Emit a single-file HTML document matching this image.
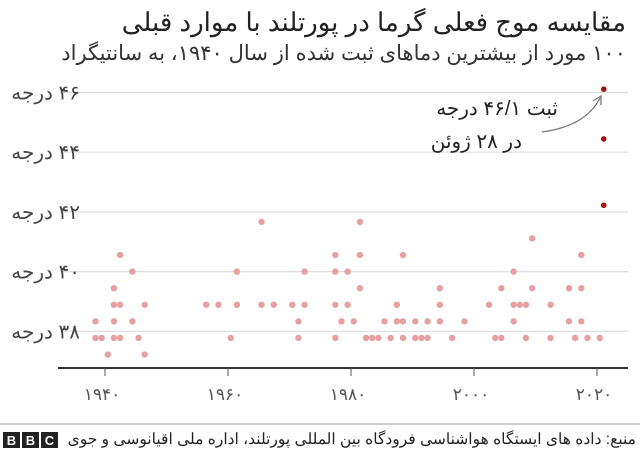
<!DOCTYPE html>
<html><head><meta charset="utf-8">
<style>
body{margin:0;background:#fff;width:640px;height:450px;overflow:hidden;font-family:"Liberation Sans","Noto Sans CJK SC",sans-serif;}
svg text{font-family:"Liberation Sans","Noto Sans CJK SC",sans-serif;}
</style></head><body>
<svg id="chart" width="640" height="450" xmlns="http://www.w3.org/2000/svg">
<text x="626" y="31" text-anchor="start" direction="rtl" font-size="26" fill="#222">مقایسه موج فعلی گرما در پورتلند با موارد قبلی</text>
<text x="626" y="60" text-anchor="start" direction="rtl" font-size="21" fill="#333">۱۰۰ مورد از بیشترین دماهای ثبت شده از سال ۱۹۴۰، به سانتیگراد</text>
<g id="grid"></g>
<g id="dots"></g>
<line x1="58" y1="368" x2="628" y2="368" stroke="#333" stroke-width="2"/>
<g id="xaxis"></g>
<text x="558" y="115" text-anchor="start" direction="rtl" font-size="20" fill="#222">ثبت ۴۶/۱ درجه</text>
<text x="522" y="148" text-anchor="start" direction="rtl" font-size="20" fill="#222">در ۲۸ ژوئن</text>
<path d="M542,132 Q586,126 600,98" fill="none" stroke="#777" stroke-width="1.3"/>
<path d="M593,101 L601,96 L601,105" fill="none" stroke="#777" stroke-width="1.3"/>
<line x1="0" y1="424" x2="640" y2="424" stroke="#999" stroke-width="1"/>
<text x="636" y="444" text-anchor="start" direction="rtl" font-size="15.5" fill="#222">منبع: داده های ایستگاه هواشناسی فرودگاه بین المللی پورتلند، اداره ملی اقیانوسی و جوی</text>
<g>
<rect x="3" y="432" width="17" height="16" fill="#222"/><text x="11.5" y="445" text-anchor="middle" font-size="13" font-weight="bold" fill="#fff">B</text>
<rect x="22" y="432" width="17" height="16" fill="#222"/><text x="30.5" y="445" text-anchor="middle" font-size="13" font-weight="bold" fill="#fff">B</text>
<rect x="41" y="432" width="17" height="16" fill="#222"/><text x="49.5" y="445" text-anchor="middle" font-size="13" font-weight="bold" fill="#fff">C</text>
</g>
</svg>
<script>
const yTicks=[38,40,42,44,46];
const yTickLabels=["۳۸ درجه","۴۰ درجه","۴۲ درجه","۴۴ درجه","۴۶ درجه"];
const xTicks=[1940,1960,1980,2000,2020];
const xTickLabels=["۱۹۴۰","۱۹۶۰","۱۹۸۰","۲۰۰۰","۲۰۲۰"];
const pastYears=[1938,1938,1939,1940,1941,1941,1941,1941,1942,1942,1942,1944,1944,1945,1946,1946,1956,1958,1960,1961,1961,1965,1965,1967,1970,1971,1971,1972,1972,1977,1977,1977,1977,1978,1979,1979,1980,1981,1981,1981,1982,1983,1984,1985,1986,1987,1987,1988,1988,1988,1990,1990,1991,1992,1992,1994,1994,1994,1996,1998,2002,2003,2004,2004,2006,2006,2006,2007,2008,2008,2009,2009,2012,2012,2015,2015,2016,2017,2017,2017,2018,2020];
const pastTempsF=[101,100,100,99,103,102,101,100,105,102,100,104,101,100,102,99,102,102,100,104,102,107,102,102,102,101,100,104,102,105,104,102,100,101,104,102,101,107,105,103,100,100,100,101,100,102,101,105,101,100,101,100,100,101,100,103,102,101,100,101,102,100,103,100,104,102,101,102,102,100,106,103,102,100,103,101,100,105,103,101,100,100];
const recentYears=[2021,2021,2021];
const recentTempsF=[115,112,108];
const NS="http://www.w3.org/2000/svg";
const xScale=y=>105+(y-1940)*6.15;
const yScale=c=>331.3-(c-38)*29.85;
const toC=f=>(f-32)*5/9;
const grid=document.getElementById('grid');
yTicks.forEach((t,i)=>{
 const l=document.createElementNS(NS,'line');
 
 
 l.setAttribute('x1',60);l.setAttribute('x2',628);l.setAttribute('y1',yScale(t));l.setAttribute('y2',yScale(t));
 l.setAttribute('stroke','#ddd');l.setAttribute('stroke-width','1.2');grid.appendChild(l);
 const tx=document.createElementNS(NS,'text');
 
 
 tx.setAttribute('x',80);tx.setAttribute('y',yScale(t)+7);tx.setAttribute('text-anchor','start');tx.setAttribute('direction','rtl');
 tx.setAttribute('font-size','20');tx.setAttribute('fill','#444');tx.textContent=yTickLabels[i];grid.appendChild(tx);
});
const xa=document.getElementById('xaxis');
xTicks.forEach((t,i)=>{
 const l=document.createElementNS(NS,'line');
 
 
 l.setAttribute('x1',xScale(t));l.setAttribute('x2',xScale(t));l.setAttribute('y1',368);l.setAttribute('y2',376);
 l.setAttribute('stroke','#555');xa.appendChild(l);
 const tx=document.createElementNS(NS,'text');
 
 
 tx.setAttribute('x',xScale(t)-3);tx.setAttribute('y',400);tx.setAttribute('text-anchor','middle');
 tx.setAttribute('font-size','17');tx.setAttribute('fill','#555');tx.textContent=xTickLabels[i];xa.appendChild(tx);
});
const dots=document.getElementById('dots');
pastYears.forEach((yr,i)=>{
 const c=document.createElementNS(NS,'circle');
 
 
 c.setAttribute('cx',xScale(yr+0.45));c.setAttribute('cy',yScale(toC(pastTempsF[i])));c.setAttribute('r',3.2);c.setAttribute('fill','#e6a0a2');
 dots.appendChild(c);
});
recentYears.forEach((yr,i)=>{
 const c=document.createElementNS(NS,'circle');
 
 
 c.setAttribute('cx',xScale(yr+0.1));c.setAttribute('cy',yScale(toC(recentTempsF[i])));c.setAttribute('r',2.8);c.setAttribute('fill','#a30f14');
 dots.appendChild(c);
});
</script>
</body></html>
